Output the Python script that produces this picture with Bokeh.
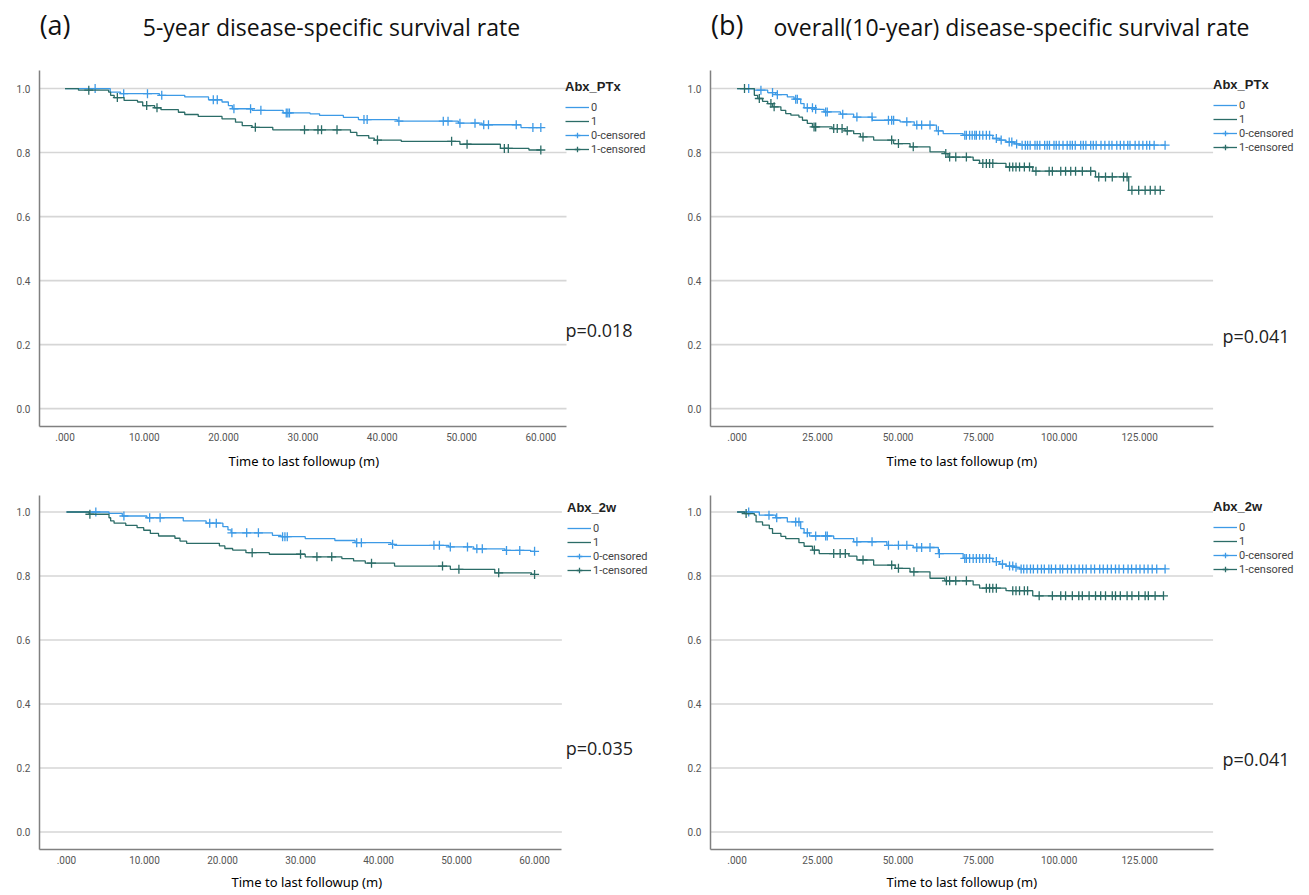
import numpy as np
from bokeh.plotting import figure
from bokeh.layouts import gridplot
from bokeh.models import FixedTicker, Label, Legend, LegendItem, PrintfTickFormatter, Title
from bokeh.embed import file_html
from bokeh.resources import INLINE

# ---------------- data ----------------
Y_TICKS = [0.0, 0.2, 0.4, 0.6, 0.8, 1.0]
X_TICKS_5Y = [0, 10, 20, 30, 40, 50, 60]
X_LABELS_5Y = [".000", "10.000", "20.000", "30.000", "40.000", "50.000", "60.000"]
X_TICKS_10Y = [0, 25, 50, 75, 100, 125]
X_LABELS_10Y = [".000", "25.000", "50.000", "75.000", "100.000", "125.000"]
GROUPS = ["0", "1"]

# (a) top: Abx_PTx, 5-year
A5_T0 = [5.7, 7.0, 11.9, 15.1, 18.1, 19.8, 20.6, 21.1, 23.6, 27.5, 30.9, 32.1, 35.1, 37.0, 41.9, 49.6, 52.6, 57.5]
A5_S0 = [0.989, 0.984, 0.979, 0.974, 0.965, 0.958, 0.947, 0.937, 0.932, 0.924, 0.921, 0.916, 0.910, 0.903, 0.898, 0.892, 0.887, 0.878]
A5_C0 = [3.8, 7.4, 10.4, 12.2, 18.7, 19.2, 21.3, 23.4, 24.7, 27.9, 28.1, 28.3, 37.7, 38.1, 42.1, 47.7, 48.3, 49.8,
         51.7, 52.8, 53.4, 56.9, 59.0, 60.0]
A5_T1 = [1.7, 5.5, 5.75, 6.2, 7.45, 9.15, 9.8, 11.3, 12.1, 14.3, 15.1, 16.8, 19.8, 21.5, 22.35, 23.6, 26.2, 36.0,
         36.8, 38.3, 39.0, 42.4, 49.8, 54.9, 58.5]
A5_S1 = [0.995, 0.989, 0.979, 0.972, 0.963, 0.958, 0.947, 0.940, 0.934, 0.926, 0.919, 0.913, 0.905, 0.895, 0.884,
         0.879, 0.871, 0.863, 0.853, 0.845, 0.839, 0.835, 0.826, 0.813, 0.808]
A5_C1 = [3.0, 6.6, 10.3, 11.6, 24.0, 30.2, 31.9, 32.35, 34.3, 39.4, 48.75, 50.7, 55.4, 55.9, 60.0]

# (a) bottom: Abx_2w, 5-year
B5_T0 = [5.45, 7.15, 10.3, 14.97, 17.9, 20.05, 20.7, 21.1, 26.4, 27.5, 30.6, 34.4, 37.0, 41.6, 42.05, 49.0, 52.2,
         56.2, 59.5]
B5_S0 = [0.996, 0.9875, 0.982, 0.972, 0.965, 0.954, 0.944, 0.935, 0.927, 0.923, 0.917, 0.911, 0.904, 0.899, 0.896,
         0.891, 0.885, 0.880, 0.877]
B5_C0 = [3.76, 7.36, 10.66, 12.0, 18.36, 19.2, 21.2, 23.1, 24.6, 27.7, 28.0, 28.3, 37.2, 37.8, 41.8, 47.1, 47.8,
         49.2, 51.4, 52.6, 53.3, 56.4, 58.1, 60.0]
B5_T1 = [2.9, 5.45, 5.66, 6.1, 7.6, 9.05, 9.9, 10.75, 11.8, 13.9, 14.55, 15.4, 19.6, 20.3, 21.3, 23.0, 26.0, 30.6,
         35.3, 36.8, 38.3, 42.05, 49.2, 54.9, 59.6]
B5_S1 = [0.993, 0.982, 0.972, 0.965, 0.958, 0.951, 0.943, 0.933, 0.925, 0.918, 0.909, 0.902, 0.894, 0.886, 0.881,
         0.873, 0.868, 0.860, 0.854, 0.847, 0.840, 0.831, 0.821, 0.810, 0.805]
B5_C1 = [3.0, 23.8, 30.0, 32.1, 34.0, 39.1, 48.2, 50.3, 55.4, 60.0]

# (b) top: Abx_PTx, overall
A10_T0 = [5.35, 9.5, 12.0, 15.6, 17.7, 19.75, 20.8, 24.0, 27.0, 32.1, 36.2, 42.0, 50.6, 55.0, 61.9, 64.0, 70.2,
          79.4, 81.5, 83.5, 86.1, 87.7]
A10_S0 = [0.995, 0.9875, 0.981, 0.974, 0.967, 0.953, 0.940, 0.935, 0.927, 0.920, 0.911, 0.901, 0.896, 0.886, 0.868,
          0.859, 0.854, 0.844, 0.839, 0.833, 0.827, 0.823]
A10_C0 = [3.6, 7.4, 11.0, 12.5, 18.2, 18.7, 21.8, 23.4, 24.4, 27.5, 28.0, 32.8, 37.2, 41.9, 47.0, 48.0, 48.6, 52.7,
          55.8, 57.3, 59.9, 62.5, 70.7, 71.2, 72.2, 73.0, 73.8, 74.3, 75.3, 76.3, 77.4, 78.4, 80.5, 82.0, 84.5,
          85.3, 86.8, 88.5, 89.5, 90.2, 91.0, 92.5, 93.2, 94.0, 95.5, 96.3, 97.0, 98.4, 99.1, 100.0, 101.2, 102.5,
          103.4, 104.1, 105.0, 106.7, 107.5, 108.3, 109.8, 110.6, 111.5, 113.0, 114.2, 115.5, 116.4, 117.9, 119.0,
          120.1, 121.3, 122.0, 123.6, 124.8, 126.0, 127.2, 128.1, 129.5, 132.9]
A10_T1 = [5.35, 6.4, 7.9, 9.5, 11.0, 13.6, 15.1, 16.7, 19.2, 20.3, 21.8, 23.4, 29.5, 33.5, 36.2, 38.3, 42.4, 48.6,
          53.7, 59.9, 64.5, 65.5, 73.3, 75.3, 83.5, 91.8, 111.3, 121.6]
A10_S1 = [0.979, 0.969, 0.960, 0.953, 0.943, 0.932, 0.922, 0.917, 0.911, 0.901, 0.891, 0.880, 0.875, 0.868, 0.859,
          0.849, 0.839, 0.828, 0.818, 0.802, 0.797, 0.786, 0.776, 0.766, 0.755, 0.742, 0.724, 0.682]
A10_C1 = [2.3, 6.9, 10.5, 11.5, 23.9, 24.4, 30.0, 31.1, 32.6, 34.2, 39.1, 48.0, 50.1, 54.7, 64.8, 66.0, 67.9, 71.2,
          76.3, 77.4, 78.4, 79.4, 84.6, 85.6, 86.6, 87.7, 89.2, 90.8, 92.8, 96.9, 97.9, 100.5, 102.0, 103.6, 105.1,
          107.2, 109.8, 112.3, 114.4, 116.5, 120.0, 121.1, 122.6, 124.7, 126.7, 128.3, 129.8, 131.4]

# (b) bottom: Abx_2w, overall
B10_T0 = [6.9, 12.0, 15.6, 19.75, 20.8, 22.5, 30.0, 36.2, 46.5, 54.7, 62.5, 70.2, 79.4, 81.5, 83.5, 86.1, 87.7]
B10_S0 = [0.990, 0.982, 0.969, 0.948, 0.935, 0.925, 0.917, 0.907, 0.896, 0.889, 0.870, 0.855, 0.845, 0.837, 0.831,
          0.827, 0.822]
B10_C0 = [3.6, 9.9, 12.3, 18.2, 19.2, 21.8, 24.4, 27.5, 28.0, 37.2, 41.9, 47.0, 50.1, 52.7, 55.8, 57.3, 59.9, 62.8,
          70.7, 71.2, 72.2, 73.3, 74.3, 75.3, 76.3, 77.4, 78.4, 80.5, 82.4, 84.6, 85.6, 86.6, 88.2, 89.0, 90.0,
          91.1, 92.0, 93.3, 94.5, 95.4, 96.8, 97.6, 98.9, 100.3, 101.1, 102.6, 103.8, 104.9, 106.2, 107.3, 108.4,
          109.9, 111.0, 112.6, 113.7, 115.0, 116.2, 117.5, 118.6, 120.0, 121.4, 122.5, 123.9, 125.1, 126.4, 127.6,
          128.9, 130.3, 132.9]
B10_T1 = [2.3, 5.35, 5.9, 7.9, 10.0, 11.0, 13.6, 15.1, 19.2, 20.8, 23.4, 25.5, 34.7, 37.2, 42.4, 49.1, 53.7, 59.9,
          64.5, 73.3, 75.3, 83.5, 91.8]
B10_S1 = [0.995, 0.990, 0.969, 0.959, 0.948, 0.933, 0.924, 0.917, 0.904, 0.893, 0.881, 0.870, 0.862, 0.850, 0.834,
          0.824, 0.813, 0.793, 0.785, 0.772, 0.762, 0.754, 0.738]
B10_C1 = [2.8, 24.0, 30.0, 32.0, 33.6, 39.1, 48.0, 50.1, 54.9, 65.0, 66.0, 67.9, 71.2, 77.4, 78.4, 79.4, 80.5, 85.6,
          86.6, 87.7, 89.2, 90.2, 93.8, 97.9, 100.5, 102.0, 104.1, 106.1, 107.2, 109.3, 111.3, 112.9, 114.4, 116.5,
          117.5, 119.0, 121.1, 122.6, 124.7, 126.7, 127.7, 129.8, 132.4]

BLUE = "#3d9ae6"
GREEN = "#2b6c67"
GRID = "#d6d6d6"
AXIS = "#808080"
X_TITLE = "Time to last followup (m)"


def km(ev_t, ev_s, cens_t):
    t_end = max(max(cens_t), max(ev_t))
    xs = [0.0] + list(ev_t) + [t_end]
    ys = [1.0] + list(ev_s) + [ev_s[-1]]
    et = np.asarray(ev_t)
    es = np.asarray(ev_s)
    idx = np.searchsorted(et, np.asarray(cens_t), side="right") - 1
    cy = np.where(idx < 0, 1.0, es[np.clip(idx, 0, None)])
    return xs, ys, list(cy)


def panel(cfg):
    p = figure(width=cfg["w"], height=cfg["h"], x_range=cfg["xr"], y_range=cfg["yr"],
               output_backend="svg", toolbar_location=None,
               min_border_left=cfg["bl"], min_border_right=cfg["br"],
               min_border_top=cfg["bt"], min_border_bottom=cfg["bb"])
    p.outline_line_color = None
    p.xgrid.visible = False
    p.ygrid.visible = False

    # gridlines limited to the plot area
    n = len(Y_TICKS)
    p.segment(x0=[cfg["xb"][0]] * n, y0=Y_TICKS, x1=[cfg["xb"][1]] * n, y1=Y_TICKS,
              line_color=GRID, line_width=1.6)

    xa = p.xaxis[0]
    xa.ticker = FixedTicker(ticks=cfg["xticks"])
    xa.major_label_overrides = {t: l for t, l in zip(cfg["xticks"], cfg["xlabels"])}
    xa.bounds = cfg["xb"]
    xa.major_label_standoff = 6

    ya = p.yaxis[0]
    ya.ticker = FixedTicker(ticks=Y_TICKS)
    ya.formatter = PrintfTickFormatter(format="%.1f")
    ya.bounds = cfg["yb"]
    ya.major_label_standoff = 9

    for ax in (xa, ya):
        ax.axis_line_color = AXIS
        ax.axis_line_width = 1.5
        ax.major_tick_out = 0
        ax.major_tick_in = 0
        ax.minor_tick_out = 0
        ax.minor_tick_in = 0
        ax.major_label_text_font = "Roboto"
        ax.major_label_text_font_size = "10px"
        ax.major_label_text_color = "#555555"

    # x-axis title, centred under the plotted area (not the legend area)
    p.add_layout(Title(text=X_TITLE, align="left", offset=cfg["xt_off"], standoff=cfg["xt_sd"],
                       text_font="Noto Sans", text_font_size="13px", text_font_style="normal",
                       text_color="#000000"), "below")

    rends = []
    for (ev_t, ev_s, c_t), col in zip(cfg["series"], [BLUE, GREEN]):
        xs, ys, cy = km(ev_t, ev_s, c_t)
        ln = p.step(x=xs, y=ys, mode="after", line_color=col, line_width=1.3)
        sc = p.scatter(x=c_t, y=cy, marker="cross", size=9, line_color=col, line_width=1.3)
        rends.append((ln, sc))

    items = [LegendItem(label=GROUPS[0], renderers=[rends[0][0]]),
             LegendItem(label=GROUPS[1], renderers=[rends[1][0]]),
             LegendItem(label=GROUPS[0] + "-censored", renderers=[rends[0][0], rends[0][1]]),
             LegendItem(label=GROUPS[1] + "-censored", renderers=[rends[1][0], rends[1][1]])]
    leg = Legend(items=items, title=cfg["legend_title"], location=cfg["legend_loc"],
                 background_fill_alpha=0, border_line_color=None,
                 padding=3, margin=0, spacing=0, label_height=14, glyph_height=14, glyph_width=24,
                 label_standoff=2, title_standoff=6,
                 label_text_font="Roboto", label_text_font_size="11px", label_text_color="#444444",
                 label_text_line_height=1.0,
                 title_text_font="Liberation Sans", title_text_font_size="13px",
                 title_text_font_style="bold", title_text_color="#222222")
    p.add_layout(leg)

    p.add_layout(Label(x=cfg["pval_xy"][0], y=cfg["pval_xy"][1], text=cfg["pval"],
                       text_font="Open Sans", text_font_size="18px", text_color="#222222",
                       text_baseline="middle", text_align="left"))
    if cfg.get("head"):
        (hx, hy, htxt), (tx, ty, ttxt) = cfg["head"]
        p.add_layout(Label(x=hx, y=hy, text=htxt, text_font="Open Sans", text_font_size="27px",
                           text_color="#111111", text_baseline="middle", text_align="left"))
        p.add_layout(Label(x=tx, y=ty, text=ttxt, text_font="Open Sans", text_font_size="23px",
                           text_color="#111111", text_baseline="middle", text_align="center"))
    return p


cfg_a_top = dict(w=655, h=480, bl=39, br=5, bt=5, bb=54,
                 xr=(-3.216, 73.83), yr=(-0.056, 1.2596), xb=(-3.216, 63.24), yb=(-0.056, 1.058),
                 xticks=X_TICKS_5Y, xlabels=X_LABELS_5Y, xt_off=189, xt_sd=12,
                 series=[(A5_T0, A5_S0, A5_C0), (A5_T1, A5_S1, A5_C1)],
                 legend_title="Abx_PTx", legend_loc=(526, 270),
                 pval="p=0.018", pval_xy=(63.1, 0.247),
                 head=((-3.2, 1.2, "(a)"), (33.6, 1.192, "5-year disease-specific survival rate")))
cfg_b_top = dict(w=654, h=480, bl=55, br=4, bt=5, bb=54,
                 xr=(-8.26, 176.5), yr=(-0.056, 1.2596), xb=(-8.26, 147.8), yb=(-0.056, 1.058),
                 xticks=X_TICKS_10Y, xlabels=X_LABELS_10Y, xt_off=176, xt_sd=12,
                 series=[(A10_T0, A10_S0, A10_C0), (A10_T1, A10_S1, A10_C1)],
                 legend_title="Abx_PTx", legend_loc=(503, 272),
                 pval="p=0.041", pval_xy=(150.7, 0.228),
                 head=((-8.1, 1.2, "(b)"), (85.2, 1.192, "overall(10-year) disease-specific survival rate")))
cfg_a_bot = dict(w=655, h=415, bl=36, br=5, bt=5, bb=46,
                 xr=(-3.46, 74.86), yr=(-0.0547, 1.0828), xb=(-3.46, 63.5), yb=(-0.0547, 1.053),
                 xticks=X_TICKS_5Y, xlabels=X_LABELS_5Y, xt_off=192, xt_sd=9,
                 series=[(B5_T0, B5_S0, B5_C0), (B5_T1, B5_S1, B5_C1)],
                 legend_title="Abx_2w", legend_loc=(528, 272),
                 pval="p=0.035", pval_xy=(64.0, 0.264))
cfg_b_bot = dict(w=654, h=415, bl=55, br=4, bt=5, bb=46,
                 xr=(-8.26, 176.5), yr=(-0.0547, 1.0828), xb=(-8.26, 147.8), yb=(-0.0547, 1.053),
                 xticks=X_TICKS_10Y, xlabels=X_LABELS_10Y, xt_off=176, xt_sd=9,
                 series=[(B10_T0, B10_S0, B10_C0), (B10_T1, B10_S1, B10_C1)],
                 legend_title="Abx_2w", legend_loc=(503, 273),
                 pval="p=0.041", pval_xy=(150.7, 0.227))

grid = gridplot([[panel(cfg_a_top), panel(cfg_b_top)], [panel(cfg_a_bot), panel(cfg_b_bot)]],
                toolbar_location=None)

open("out.html", "w").write(file_html(grid, INLINE))
